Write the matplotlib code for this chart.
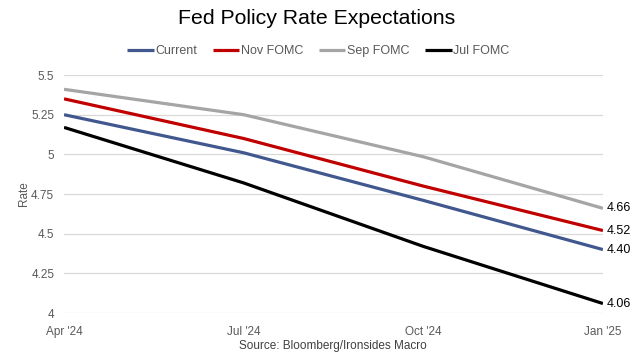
import matplotlib
matplotlib.use("Agg")
import matplotlib.pyplot as plt

plt.rcParams["font.family"] = ["Liberation Sans", "DejaVu Sans"]

# -----------------------------
# Data
# -----------------------------
months = ["Apr '24", "Jul '24", "Oct '24", "Jan '25"]
current = [5.25, 5.01, 4.71, 4.40]
nov_fomc = [5.35, 5.10, 4.80, 4.52]
sep_fomc = [5.41, 5.25, 4.985, 4.66]
jul_fomc = [5.17, 4.82, 4.42, 4.06]

series = [
    ("Current", current, "#41588F"),
    ("Nov FOMC", nov_fomc, "#C00000"),
    ("Sep FOMC", sep_fomc, "#A5A5A5"),
    ("Jul FOMC", jul_fomc, "#000000"),
]

# -----------------------------
# Plot
# -----------------------------
fig = plt.figure(figsize=(6.34, 3.59), dpi=100)
ax = fig.add_axes([0.101, 0.128, 0.85, 0.663])

x = range(len(months))
for name, vals, color in series:
    ax.plot(x, vals, color=color, linewidth=2.3, label=name, solid_capstyle="butt")
    ax.text(len(months) - 1 + 0.02, vals[-1], f"{vals[-1]:.2f}",
            ha="left", va="center", fontsize=9, color="#000000")

ax.set_xlim(0, len(months) - 1)
ax.set_ylim(4, 5.5)
ax.set_yticks([4, 4.25, 4.5, 4.75, 5, 5.25, 5.5])
ax.set_yticklabels(["4", "4.25", "4.5", "4.75", "5", "5.25", "5.5"])
ax.set_xticks(list(x))
ax.set_xticklabels(months)
ax.tick_params(axis="both", length=0, labelsize=8.5, labelcolor="#595959")
ax.tick_params(axis="y", pad=7)
ax.tick_params(axis="x", pad=9)
ax.grid(axis="y", color="#D9D9D9", linewidth=0.9)
ax.set_axisbelow(True)
for s in ax.spines.values():
    s.set_visible(False)

ax.set_ylabel("Rate", fontsize=8.5, color="#595959", labelpad=1)

fig.text(0.5, 0.948, "Fed Policy Rate Expectations", ha="center", va="center",
         fontsize=15.3, color="#000000")
fig.legend(loc="center", bbox_to_anchor=(0.502, 0.858), ncol=4, frameon=False,
           fontsize=9, handlelength=2.1, handletextpad=0.1, columnspacing=1.3,
           labelcolor="#595959")
fig.text(0.525, 0.036, "Source: Bloomberg/Ironsides Macro", ha="center",
         va="center", fontsize=8.5, color="#404040")

fig.savefig("out.png", dpi=100)
